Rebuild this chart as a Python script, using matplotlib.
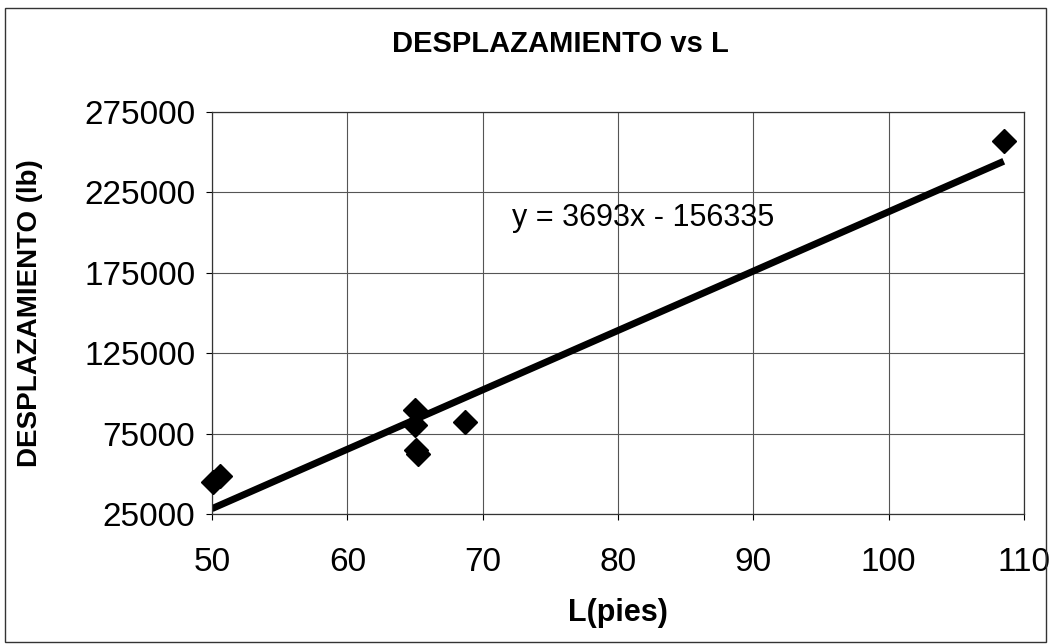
import numpy as np
import matplotlib.pyplot as plt
from matplotlib.patches import Rectangle

plt.rcParams['font.family'] = ['Liberation Sans', 'DejaVu Sans']

# -------------------------
# DATOS
# -------------------------
eslora = [50.1, 50.6, 65.0, 65.0, 65.1, 65.2, 68.7, 108.5]
desplazamiento = [45000, 48500, 89500, 80500, 64500, 62500, 82500, 257000]

pendiente = 3693
intercepto = -156335

x_ticks = [50, 60, 70, 80, 90, 100, 110]
y_ticks = [25000, 75000, 125000, 175000, 225000, 275000]

# -------------------------
# GRAFICO
# -------------------------
fig = plt.figure(figsize=(10.53, 6.44), dpi=100)
ax = fig.add_axes([0.2013, 0.2019, 0.7712, 0.6242])

ax.plot(eslora, desplazamiento, 'D', color='black', markersize=12, zorder=3,
        clip_on=False)

x_linea = np.array([50, max(eslora)])
ax.plot(x_linea, pendiente * x_linea + intercepto, '-', color='black',
        linewidth=5, solid_capstyle='butt', zorder=2)

ax.text(72.2, 209000, f'y = {pendiente}x - {abs(intercepto)}',
        fontsize=22, color='black', ha='left', va='center')

ax.set_xlim(50, 110)
ax.set_ylim(25000, 275000)
ax.set_xticks(x_ticks)
ax.set_yticks(y_ticks)
ax.tick_params(axis='both', labelsize=24, direction='out', length=4,
               width=0.8, pad=20)
ax.tick_params(axis='y', pad=8)
ax.grid(True, color='#555555', linewidth=0.8)
ax.set_axisbelow(True)
for s in ax.spines.values():
    s.set_color('#333333')
    s.set_linewidth(0.9)

ax.set_xlabel('L(pies)', fontsize=22, fontweight='bold', labelpad=14)
ax.set_ylabel('DESPLAZAMIENTO (lb)', fontsize=20, fontweight='bold', labelpad=30)
fig.text(0.532, 0.932, 'DESPLAZAMIENTO vs L', fontsize=21, fontweight='bold',
         ha='center', va='center')

# marco del grafico
fig.patches.append(Rectangle((0.005, 0.003), 0.988, 0.985, transform=fig.transFigure,
                             fill=False, edgecolor='#333333', linewidth=1))

fig.savefig('out.png', dpi=100)
